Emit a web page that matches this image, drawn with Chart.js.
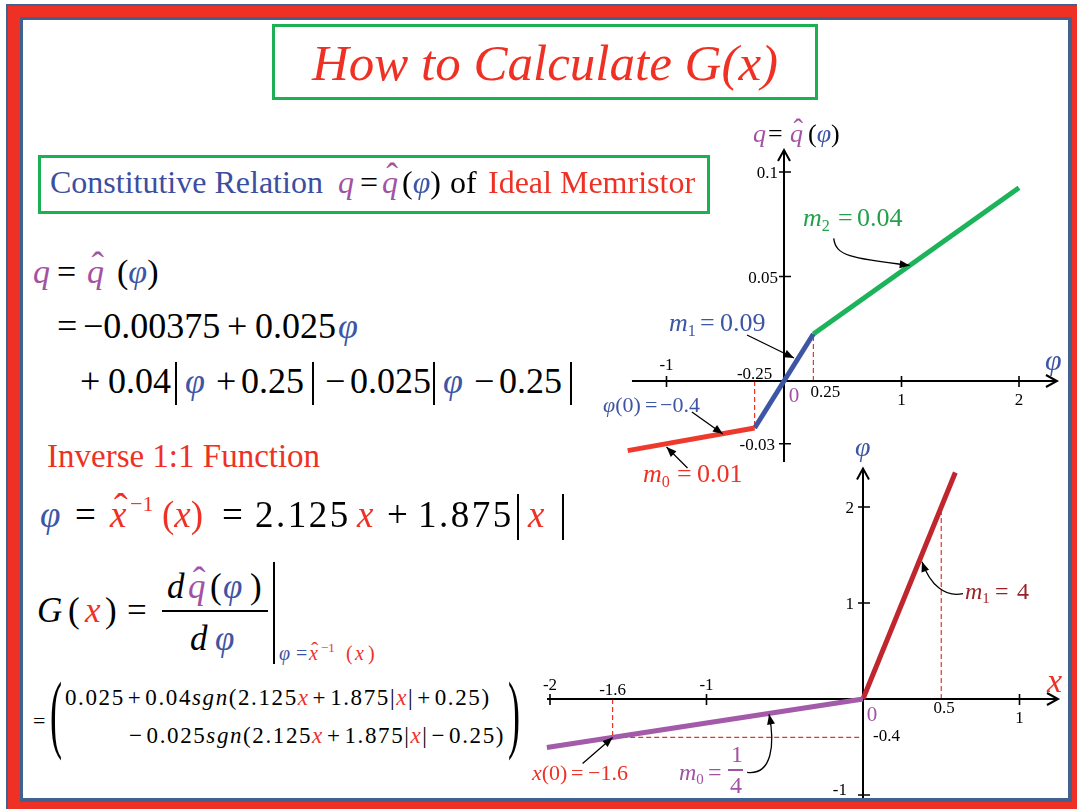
<!DOCTYPE html>
<html>
<head>
<meta charset="utf-8">
<script src="https://cdn.jsdelivr.net/npm/chart.js@4.4.0/dist/chart.umd.min.js"></script>
<style>
  html, body { margin: 0; padding: 0; }
  body { width: 1077px; height: 809px; overflow: hidden; position: relative; background: #fff;
         font-family: "Liberation Serif", "Times New Roman", serif; color: #000; }
  .frame { position: absolute; }
  #fOuter { left: 6px; top: 4px; width: 1100px; height: 850px; background: #41618f; }
  #fRed   { left: 8px; top: 6px; width: 1100px; height: 850px; background: #ee3124; }
  #fInner { left: 20px; top: 17px; width: 1052px; height: 785px; background: #41618f; }
  #paper  { left: 23px; top: 20px; width: 1045px; height: 778px; background: #fff; }
  .box { position: absolute; border: 3px solid #1db053; box-sizing: border-box; z-index: 3; }
  canvas { position: absolute; z-index: 4; }
  .t { position: absolute; line-height: 1; white-space: nowrap; z-index: 5; }
  .pu { color: #a352a3; }
  .bl { color: #3c55a5; }
  .rd { color: #ee3124; }
  .gr { color: #22a04a; }
  .dr { color: #9c2127; }
  .sb { position: relative; top: 0.28em; font-size: 0.62em; font-style: normal; }
  .hat { position: relative; display: inline-block; }
  .hat .h { position: absolute; left: 0.06em; right: -0.06em; top: -0.2em; text-align: center;
            font-style: normal; font-size: 1.1em; }
  .op { margin: 0 3px; }
  .vb { position: absolute; background: #000; z-index: 5; }
</style>
</head>
<body>
<div class="frame" id="fOuter"></div>
<div class="frame" id="fRed"></div>
<div class="frame" id="fInner"></div>
<div class="frame" id="paper"></div>

<div class="box" style="left:272px;top:24px;width:546px;height:76px;"></div>
<div class="box" style="left:38px;top:155px;width:672px;height:59px;"></div>

<canvas id="chargeChart" width="480" height="380" style="left:590px;top:110px;"></canvas>
<canvas id="inverseChart" width="540" height="360" style="left:530px;top:440px;"></canvas>

<script>
// ---------- data: piecewise-linear constitutive relation q = q̂(φ) ----------
const fluxBreaks   = [-1.33, -0.25, 0.25, 2.0];          // φ at segment ends
const chargeBreaks = [-0.0333, -0.0225, 0.0225, 0.0925];  // q at segment ends
const chargeSegColors = ['#ee3a2e', '#3c55a5', '#1db35a']; // m0, m1, m2 segments
const fluxTicks   = [-1, 1, 2];
const chargeTicks = [0.1, 0.05, -0.03];

// ---------- data: inverse function φ = x̂⁻¹(x) ----------
const stateBreaks = [-2.02, 0, 0.59];     // x at segment ends
const fluxOfState = [-0.505, 0, 2.36];    // φ at segment ends
const inverseSegColors = ['#a25aa9', '#c0262d'];
const stateTicks = [-2, -1, 1];
const inverseFluxTicks = [2, 1, -1];

const RED = '#ee3124';

// ---------- helpers for the formula text ----------
function T(x, base, size, html, style) {
  const d = document.createElement('div');
  d.className = 't';
  d.style.left = x + 'px';
  d.style.top = (base - 0.8375 * size) + 'px';
  d.style.fontSize = size + 'px';
  if (style) d.style.cssText += style;
  d.innerHTML = html;
  document.body.appendChild(d);
  return d;
}
function hat(ch, cls) {
  return '<span class="hat ' + (cls || '') + '"><i>' + ch + '</i><span class="h">ˆ</span></span>';
}
function vbar(x, y1, y2, w, color) {
  const d = document.createElement('div');
  d.className = 'vb';
  d.style.left = x + 'px'; d.style.top = y1 + 'px';
  d.style.width = (w || 1.6) + 'px'; d.style.height = (y2 - y1) + 'px';
  if (color) d.style.background = color;
  document.body.appendChild(d);
}
function hbar(x, y, len, h, color) {
  const d = document.createElement('div');
  d.className = 'vb';
  d.style.left = x + 'px'; d.style.top = y + 'px';
  d.style.width = len + 'px'; d.style.height = (h || 1.6) + 'px';
  if (color) d.style.background = color;
  document.body.appendChild(d);
}

// title
T(272, 81, 51, '<i class="rd">How to Calculate G(x)</i>', 'width:546px;text-align:center;');

// heading box
T(50, 193, 32, '<span style="color:#3b4ea0">Constitutive Relation</span>');
T(338, 193, 32, '<i class="pu">q</i>');
T(360, 193, 32, '=');
T(382, 193, 32, hat('q', 'pu'));
T(402, 193, 32, '(<i class="bl">φ</i>)');
T(450, 193, 32, 'of');
T(488, 193, 32, '<span class="rd">Ideal Memristor</span>');

// q = q̂(φ) expansion
T(33, 283, 34, '<i class="pu">q</i>');
T(57, 283, 34, '=');
T(87, 283, 34, hat('q', 'pu'));
T(117, 283, 34, '(<i class="bl">φ</i>)');

T(57, 338, 36, '=');
T(83, 338, 36, '−0.00375');
T(227, 338, 36, '+');
T(255, 338, 36, '0.025');
T(338, 338, 36, '<i class="bl">φ</i>');

T(80, 393, 36, '+');
T(108, 393, 36, '0.04');
vbar(175, 362, 405);
T(185, 393, 36, '<i class="bl">φ</i>');
T(216, 393, 36, '+');
T(241, 393, 36, '0.25');
vbar(312, 362, 405);
T(325, 393, 36, '−');
T(350, 393, 36, '0.025');
vbar(433, 362, 405);
T(443, 393, 36, '<i class="bl">φ</i>');
T(474, 393, 36, '−');
T(499, 393, 36, '0.25');
vbar(570, 362, 405);

// inverse function
T(47, 468, 33, '<span class="rd">Inverse 1:1 Function</span>');
T(40, 527, 37, '<i class="bl">φ</i>');
T(75, 527, 37, '=');
T(110, 527, 37, hat('x', 'rd'));
T(130, 511, 22, '<span class="rd">−1</span>');
T(162, 527, 37, '<span class="rd">(<i>x</i>)</span>');
T(222, 527, 37, '=');
T(255, 527, 37, '2.125', 'letter-spacing:2.5px;');
T(357, 527, 37, '<i class="rd">x</i>');
T(387, 527, 37, '+');
T(418, 527, 37, '1.875', 'letter-spacing:2.5px;');
vbar(517, 494, 540);
T(528, 527, 37, '<i class="rd">x</i>');
vbar(562, 494, 540);

// G(x)
T(37, 622, 35, '<i>G</i>');
T(68, 622, 35, '(');
T(85, 622, 35, '<i class="rd">x</i>');
T(105, 622, 35, ')');
T(127, 622, 35, '=');
T(167, 598, 35, '<i>d</i>');
T(188, 598, 35, hat('q', 'pu'));
T(210, 598, 35, '(');
T(223, 598, 35, '<i class="bl">φ</i>');
T(250, 598, 35, ')');
hbar(162, 610, 106, 2);
T(190, 650, 35, '<i>d</i>');
T(215, 650, 35, '<i class="bl">φ</i>');
vbar(273, 562, 664);
T(279, 660, 20, '<i class="bl">φ</i>');
T(296, 660, 20, '<span class="bl">=</span>');
T(309, 660, 20, hat('x', 'rd'));
T(321, 652, 13, '<span class="rd">−1</span>');
T(346, 660, 20, '<span class="rd">(</span>');
T(355, 660, 20, '<i class="rd">x</i>');
T(368, 660, 20, '<span class="rd">)</span>');

// expanded G(x)
T(33, 728, 22, '=');
T(50, 742, 86, '(', 'transform:scaleX(0.42);transform-origin:0 0;');
T(508, 742, 86, ')', 'transform:scaleX(0.42);transform-origin:0 0;');
T(65, 705, 23, '0.025<span class="op">+</span>0.04<i>sgn</i>(2.125<i class="rd">x</i><span class="op">+</span>1.875|<i class="rd">x</i>|<span class="op">+</span>0.25)', 'letter-spacing:1.6px;');
T(129, 743, 23, '<span class="op" style="margin-left:0">−</span>0.025<i>sgn</i>(2.125<i class="rd">x</i><span class="op">+</span>1.875|<i class="rd">x</i>|<span class="op">−</span>0.25)', 'letter-spacing:1.6px;');

// ---------- chart annotations ----------
// upper chart
T(753, 143, 26, '<i class="pu">q</i>');
T(768, 143, 26, '=');
T(790, 143, 26, hat('q', 'pu'));
T(808, 143, 26, '(<i class="bl">φ</i>)');
T(1045, 370, 30, '<i class="bl">φ</i>');
T(803, 227, 26, '<span class="gr"><i>m</i><span class="sb">2</span></span>');
T(838, 227, 26, '<span class="gr">=</span>');
T(857, 227, 26, '<span class="gr">0.04</span>');
T(669, 332, 26, '<span class="bl"><i>m</i><span class="sb">1</span></span>');
T(700, 332, 26, '<span class="bl">=</span>');
T(720, 332, 26, '<span class="bl">0.09</span>');
T(603, 412, 22, '<span class="bl"><i>φ</i>(0)</span>');
T(645, 412, 22, '<span class="bl">=</span>');
T(660, 412, 22, '<span class="bl">−0.4</span>');
T(643, 483, 26, '<span class="rd"><i>m</i><span class="sb">0</span></span>');
T(677, 483, 26, '<span class="rd">=</span>');
T(697, 483, 26, '<span class="rd">0.01</span>');

// lower chart
T(855, 456, 28, '<i class="bl">φ</i>');
T(1047, 692, 34, '<i class="rd">x</i>');
T(965, 599, 24, '<span class="dr"><i>m</i><span class="sb">1</span></span>');
T(995, 599, 24, '<span class="dr">=</span>');
T(1017, 599, 24, '<span class="dr">4</span>');
T(532, 780, 22, '<span class="rd"><i>x</i>(0)</span>');
T(571, 780, 22, '<span class="rd">=</span>');
T(588, 780, 22, '<span class="rd">−1.6</span>');
T(679, 780, 24, '<span class="pu"><i>m</i><span class="sb">0</span></span>');
T(708, 780, 24, '<span class="pu">=</span>');
T(731, 762, 24, '<span class="pu">1</span>');
hbar(728, 769, 15, 1.5, '#a352a3');
T(730, 793, 24, '<span class="pu">4</span>');

// ---------- drawing helpers for the canvas decorations ----------
function drawArrow(ctx, pts) {
  ctx.beginPath();
  ctx.moveTo(pts[0][0], pts[0][1]);
  if (pts.length === 4) ctx.bezierCurveTo(pts[1][0], pts[1][1], pts[2][0], pts[2][1], pts[3][0], pts[3][1]);
  else ctx.lineTo(pts[1][0], pts[1][1]);
  ctx.stroke();
  const tip = pts[pts.length - 1], from = pts[pts.length - 2];
  const a = Math.atan2(tip[1] - from[1], tip[0] - from[0]);
  const L = 10, W = 4;
  ctx.beginPath();
  ctx.moveTo(tip[0], tip[1]);
  ctx.lineTo(tip[0] - L * Math.cos(a) + W * Math.sin(a), tip[1] - L * Math.sin(a) - W * Math.cos(a));
  ctx.lineTo(tip[0] - L * Math.cos(a) - W * Math.sin(a), tip[1] - L * Math.sin(a) + W * Math.cos(a));
  ctx.closePath();
  ctx.fill();
}

function decorations(spec) {
  return {
    id: 'decor_' + spec.name,
    beforeDatasetsDraw(chart) {
      const { ctx } = chart;
      const sx = chart.scales.x, sy = chart.scales.y;
      const X = v => sx.getPixelForValue(v), Y = v => sy.getPixelForValue(v);
      const x0 = X(0), y0 = Y(0);
      ctx.save();
      // dashed guides from the axes to marked points
      ctx.strokeStyle = RED; ctx.lineWidth = 1.2; ctx.setLineDash([5, 3]);
      spec.guides.forEach(g => {
        ctx.beginPath();
        ctx.moveTo(X(g.at[0]), y0); ctx.lineTo(X(g.at[0]), Y(g.at[1]));
        if (g.h) { ctx.lineTo(x0, Y(g.at[1])); }
        ctx.stroke();
      });
      ctx.setLineDash([]);
      // axes through the origin
      ctx.strokeStyle = '#000'; ctx.lineWidth = 2;
      const xa = X(spec.xAxis[0]), xb = X(spec.xAxis[1]);
      const ya = Y(spec.yAxis[0]), yb = Y(spec.yAxis[1]);
      ctx.beginPath();
      ctx.moveTo(xa, y0); ctx.lineTo(xb, y0);
      ctx.moveTo(x0, ya); ctx.lineTo(x0, yb);
      // open arrowheads
      ctx.moveTo(xb - 11, y0 - 6); ctx.lineTo(xb, y0); ctx.lineTo(xb - 11, y0 + 6);
      ctx.moveTo(x0 - 6, yb + 11); ctx.lineTo(x0, yb); ctx.lineTo(x0 + 6, yb + 11);
      ctx.stroke();
      ctx.lineWidth = 1.6;
      ctx.beginPath();
      spec.xTicks.forEach(v => { ctx.moveTo(X(v), y0 - 5); ctx.lineTo(X(v), y0 + 6); });
      spec.yTicks.forEach(v => { ctx.moveTo(x0 - 5, Y(v)); ctx.lineTo(x0 + 7, Y(v)); });
      ctx.stroke();
      ctx.restore();
    },
    afterDatasetsDraw(chart) {
      const { ctx } = chart;
      const sx = chart.scales.x, sy = chart.scales.y;
      const X = v => sx.getPixelForValue(v), Y = v => sy.getPixelForValue(v);
      const x0 = X(0), y0 = Y(0);
      ctx.save();
      ctx.textBaseline = 'alphabetic';
      ctx.fillStyle = '#000';
      ctx.font = '17px "Liberation Serif", "Times New Roman", serif';
      spec.xTickLabels.forEach(t => {
        ctx.textAlign = 'center';
        ctx.fillText(String(t.v), X(t.v), y0 + t.dy);
      });
      spec.yTickLabels.forEach(t => {
        ctx.textAlign = 'right';
        ctx.fillText(String(t.v), x0 + t.dx, Y(t.v) + t.dy);
      });
      spec.extraLabels.forEach(t => {
        ctx.font = (t.size || 17) + 'px "Liberation Serif", "Times New Roman", serif';
        ctx.fillStyle = t.color || '#000';
        ctx.textAlign = t.align || 'center';
        const px = t.x === undefined ? x0 : X(t.x);
        const py = t.y === undefined ? y0 : Y(t.y);
        ctx.fillText(t.text, px + t.dx, py + t.dy);
      });
      // annotation arrows: tip anchored on the curve, path given as pixel offsets from the tip
      ctx.strokeStyle = '#000'; ctx.fillStyle = '#000'; ctx.lineWidth = 1.3;
      spec.arrows.forEach(a => {
        const tx = X(a.tip[0]), ty = Y(a.tip[1]);
        const pts = a.path.map(o => [tx + o[0], ty + o[1]]);
        pts.push([tx, ty]);
        drawArrow(ctx, pts);
      });
      ctx.restore();
    }
  };
}

function segments(xs, ys, colors) {
  const out = [];
  for (let i = 0; i < colors.length; i++) {
    out.push({
      data: [{ x: xs[i], y: ys[i] }, { x: xs[i + 1], y: ys[i + 1] }],
      borderColor: colors[i], borderWidth: 5, showLine: true,
      pointRadius: 0, pointHoverRadius: 0, fill: false, tension: 0,
      borderCapStyle: 'butt', clip: false
    });
  }
  return out;
}

function makeChart(id, datasets, xr, yr, spec) {
  return new Chart(document.getElementById(id), {
    type: 'scatter',
    data: { datasets },
    options: {
      responsive: false, animation: false, events: [],
      layout: { padding: 0, autoPadding: false },
      plugins: { legend: { display: false }, tooltip: { enabled: false }, title: { display: false } },
      scales: {
        x: { type: 'linear', min: xr[0], max: xr[1], display: false },
        y: { type: 'linear', min: yr[0], max: yr[1], display: false }
      }
    },
    plugins: [decorations(spec)]
  });
}

// q = q̂(φ)
makeChart('chargeChart',
  segments(fluxBreaks, chargeBreaks, chargeSegColors),
  [-1.6511, 2.4340], [-0.052153, 0.129665],
  {
    name: 'charge',
    xAxis: [-1.294, 2.323], yAxis: [-0.0388, 0.1105],
    xTicks: fluxTicks, yTicks: chargeTicks,
    guides: [
      { at: [fluxBreaks[2], chargeBreaks[2]] },
      { at: [fluxBreaks[1], chargeBreaks[1]] }
    ],
    xTickLabels: [
      { v: fluxTicks[0], dy: -11 },
      { v: fluxTicks[1], dy: 24 },
      { v: fluxTicks[2], dy: 24 }
    ],
    yTickLabels: chargeTicks.map(v => ({ v, dx: v < 0 ? -9 : -6, dy: 6 })),
    extraLabels: [
      { x: fluxBreaks[1], text: '-0.25', dx: 0, dy: -2 },
      { x: fluxBreaks[2], text: '0.25', dx: 12, dy: 16 },
      { text: '0', dx: 10, dy: 21, size: 21, color: '#a352a3' }
    ],
    arrows: [
      { tip: [1.07, 0.0553], path: [[-76, -27], [-74, -10], [-60, -7]] },
      { tip: [0.085, 0.011], path: [[-47, -23]] },
      { tip: [-0.52, -0.0254], path: [[-31, -22]] },
      { tip: [-1.0, -0.0316], path: [[21, 21]] }
    ]
  });

// φ = x̂⁻¹(x)
makeChart('inverseChart',
  segments(stateBreaks, fluxOfState, inverseSegColors),
  [-2.1278, 1.3227], [-1.0521, 2.6979],
  {
    name: 'inverse',
    xAxis: [-2.019, 1.246], yAxis: [-1.03, 2.40],
    xTicks: stateTicks, yTicks: inverseFluxTicks,
    guides: [
      { at: [0.5, 2] },
      { at: [-1.6, -0.4], h: true }
    ],
    xTickLabels: [
      { v: stateTicks[0], dy: -9 },
      { v: stateTicks[1], dy: -9 },
      { v: stateTicks[2], dy: 24 }
    ],
    yTickLabels: inverseFluxTicks.map(v => ({ v, dx: v < 0 ? -16 : -9, dy: v < 0 ? 0 : 6 })),
    extraLabels: [
      { x: -1.6, text: '-1.6', dx: 0, dy: -4 },
      { x: 0.5, text: '0.5', dx: 3, dy: 14 },
      { text: '0', dx: 9, dy: 22, size: 21, color: '#a352a3' },
      { y: -0.4, text: '-0.4', dx: 10, dy: 4, align: 'left' }
    ],
    arrows: [
      { tip: [0.377, 1.43], path: [[41, 32], [23, 36], [8, 23]] },
      { tip: [-1.6, -0.4], path: [[-30, 26]] },
      { tip: [-0.6, -0.16], path: [[-22, 58], [3, 61], [6, 30]] }
    ]
  });
</script>
</body>
</html>
